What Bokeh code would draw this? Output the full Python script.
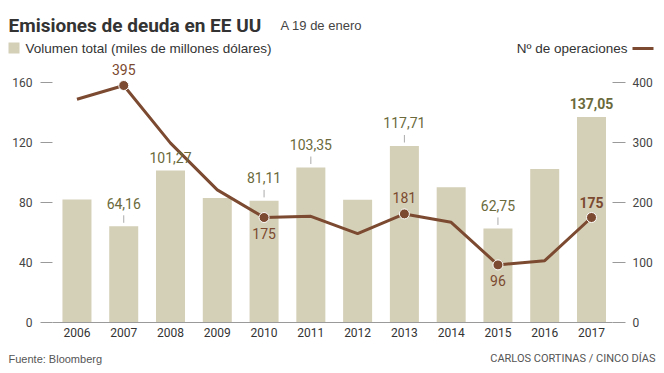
from bokeh.plotting import figure
from bokeh.models import (Range1d, LinearAxis, FixedTicker, ColumnDataSource,
                          NumeralTickFormatter)
from bokeh.core.properties import value
from bokeh.embed import file_html
from bokeh.resources import INLINE

# ---- data ----
years = [2006, 2007, 2008, 2009, 2010, 2011, 2012, 2013, 2014, 2015, 2016, 2017]
volumen = [82.0, 64.16, 101.27, 83.0, 81.11, 103.35, 81.8, 117.71, 90.2, 62.75, 102.4, 137.05]
operaciones = [372, 395, 299, 221, 175, 177, 148, 181, 167, 96, 103, 175]

vol_label_years_leader = [2007, 2010, 2011, 2013, 2015]
vol_label_years_plain = [2008]
vol_label_years_bold = [2017]
ops_label_above = [2007, 2013]
ops_label_below = [2010, 2015]
ops_label_bold = [2017]

left_ticks = [0, 40, 80, 120, 160]
right_ticks = [0, 100, 200, 300, 400]

title_text = "Emisiones de deuda en EE UU"
subtitle_text = "A 19 de enero"
legend_bar_text = "Volumen total (miles de millones dólares)"
legend_line_text = "Nº de operaciones"
source_text = "Fuente: Bloomberg"
credit_text = "CARLOS CORTINAS / CINCO DÍAS"

# ---- styles ----
BAR = "#d4cfb7"
LINE = "#7b4a30"
OLIVE = "#6b6a3c"
TICK = "#9a9a9a"
TXT = "#444444"
NARROW = "Roboto"
SANS = "Liberation Sans"

# ---- layout (page pixels) ----
W, H = 664, 373
FL, FR, FB = 52, 612, 322          # plotting area left/right/baseline
X_START, X_END = 2005.477, 2017.449  # year range shown across FL..FR
XPX = (FR - FL) / (X_END - X_START)  # px per year
YPX = 1.5                            # px per unit (left scale)
RATIO = 2.5                          # right scale / left scale

x0 = X_START - FL / XPX
y_lo = -(H - FB) / YPX
y_hi = FB / YPX

p = figure(width=W, height=H, output_backend="svg", toolbar_location=None,
           x_range=Range1d(x0, x0 + W / XPX), y_range=Range1d(y_lo, y_hi),
           x_axis_location=None, y_axis_location=None, min_border=0,
           outline_line_color=None, background_fill_color="white", border_fill_color="white")
p.extra_y_ranges = {"ops": Range1d(y_lo * RATIO, y_hi * RATIO), "py": Range1d(H, 0)}
p.extra_x_ranges = {"px": Range1d(0, W)}
p.grid.visible = False

la = LinearAxis(ticker=FixedTicker(ticks=left_ticks), fixed_location=X_START)
ra = LinearAxis(y_range_name="ops", ticker=FixedTicker(ticks=right_ticks), fixed_location=X_END)
ba = LinearAxis(ticker=FixedTicker(ticks=years), fixed_location=0, bounds=(X_START, X_END))

for ax in (la, ra):
    ax.axis_line_color = None
    ax.major_tick_in = 0
    ax.major_tick_out = 12
    ax.major_tick_line_color = TICK
    ax.major_tick_line_width = 1
    ax.minor_tick_line_color = None
    ax.major_label_text_font = NARROW
    ax.major_label_text_font_size = "12px"
    ax.major_label_text_color = TXT
la.major_label_standoff = 8
ra.major_tick_out = 13
ra.major_label_standoff = 7

ba.axis_line_color = TICK
ba.axis_line_width = 1
ba.major_tick_in = 0
ba.major_tick_out = 0
ba.minor_tick_line_color = None
ba.major_label_standoff = 5
ba.major_label_text_font = NARROW
ba.major_label_text_font_size = "12px"
ba.major_label_text_color = "#333333"
ba.formatter = NumeralTickFormatter(format="0")

p.add_layout(la, "left")
p.add_layout(ra, "right")
p.add_layout(ba, "below")

# bars
p.vbar(x=years, top=volumen, width=0.62, fill_color=BAR, line_color=None)

# leader lines
lead_x = [y for y in years if y in vol_label_years_leader]
lead_v = [volumen[years.index(y)] for y in lead_x]
p.segment(x0=lead_x, y0=[v + 2.3 for v in lead_v], x1=lead_x, y1=[v + 7.3 for v in lead_v],
          line_color="#aaaaaa", line_width=1)

# line
p.line(years, operaciones, y_range_name="ops", line_color=LINE, line_width=3)
mk_years = ops_label_above + ops_label_below + ops_label_bold
mk_vals = [operaciones[years.index(y)] for y in mk_years]
p.scatter(mk_years, mk_vals, y_range_name="ops", size=10, fill_color=LINE,
          line_color="white", line_width=1)

def fmt(v):
    return f"{v:.2f}".replace(".", ",")

VSIZE = "14px"
src = ColumnDataSource(dict(x=lead_x, y=lead_v, t=[fmt(v) for v in lead_v]))
p.text("x", "y", text="t", source=src, y_offset=-23, text_align="center",
       text_baseline="middle", text_font=value(NARROW), text_font_size=VSIZE, text_color=OLIVE)
px_ = vol_label_years_plain
pv_ = [volumen[years.index(y)] for y in px_]
p.text(px_, pv_, text=[fmt(v) for v in pv_], y_offset=-13, text_align="center",
       text_baseline="middle", text_font=value(NARROW), text_font_size=VSIZE, text_color=OLIVE)
bx_ = vol_label_years_bold
bv_ = [volumen[years.index(y)] for y in bx_]
p.text(bx_, bv_, text=[fmt(v) for v in bv_], y_offset=-13, text_align="center",
       text_baseline="middle", text_font=value(NARROW), text_font_size=VSIZE,
       text_font_style="bold", text_color=OLIVE)

for ys, off, style in ((ops_label_above, -16, "normal"), (ops_label_below, 16, "normal"),
                       (ops_label_bold, -15, "bold")):
    vals = [operaciones[years.index(y)] for y in ys]
    p.text(ys, vals, text=[str(v) for v in vals], y_range_name="ops", y_offset=off,
           text_align="center", text_baseline="middle", text_font=value(NARROW),
           text_font_size=VSIZE, text_font_style=style, text_color=LINE)

# ---- header / legend / footer (page pixel ranges) ----
kw = dict(x_range_name="px", y_range_name="py")
p.text([8], [25], text=[title_text], text_font=value(NARROW), text_font_size="19px",
       text_font_style="bold", text_color="#333333", text_baseline="alphabetic", **kw)
p.text([280], [25], text=[subtitle_text], text_font=value(SANS), text_font_size="13px",
       text_color=TXT, text_baseline="alphabetic", **kw)
p.rect([13.5], [47.5], width=11, height=11, fill_color=BAR, line_color=None, **kw)
p.text([25], [48], text=[legend_bar_text], text_font=value(SANS), text_font_size="13.5px",
       text_color="#333333", text_baseline="middle", **kw)
p.text([627], [48], text=[legend_line_text], text_font=value(SANS), text_font_size="13.5px",
       text_color="#333333", text_baseline="middle", text_align="right", **kw)
p.segment([632], [48], [653], [48], line_color=LINE, line_width=3, **kw)
p.text([8], [358], text=[source_text], text_font=value(SANS), text_font_size="11px",
       text_color="#555555", text_baseline="middle", **kw)
p.text([655], [358], text=[credit_text], text_font=value(NARROW), text_font_size="11px",
       text_color="#555555", text_baseline="middle", text_align="right", **kw)

open("out.html", "w").write(file_html(p, INLINE))
